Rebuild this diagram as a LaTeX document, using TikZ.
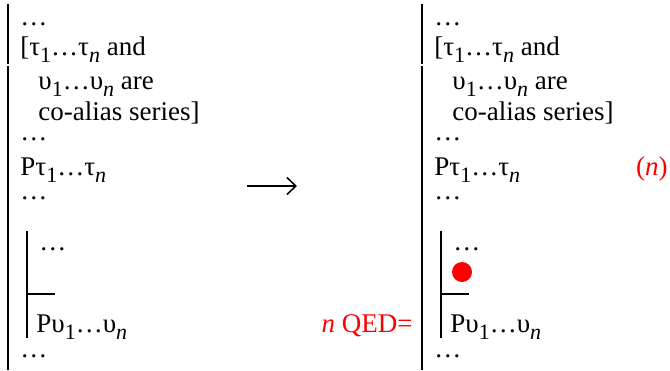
\documentclass[tikz,border=0pt]{standalone}
\usepackage{fontspec}
\setmainfont{Liberation Serif}
\usetikzlibrary{arrows.meta}
\newcommand{\sbs}[1]{\raisebox{-3.5pt}[\height][0pt]{\fontsize{11}{11}\selectfont #1}}
\newcommand{\tauseq}{τ\sbs{1}…τ\sbs{\textit{n}}}
\newcommand{\upsseq}{υ\sbs{1}…υ\sbs{\textit{n}}}

\begin{document}
\begin{tikzpicture}[x=0.5pt,y=-0.5pt,
  txt/.style={anchor=base west,inner sep=0pt,font=\fontsize{13.5}{15}\selectfont},
  bar/.style={line width=0.65pt}]
  \useasboundingbox (0,0) rectangle (670,370);
  \foreach \s/\dx in {l/0,r/414}{
    \draw[bar] (8+\dx,4)--(8+\dx,64); \draw[bar] (8+\dx,66)--(8+\dx,370);
    \draw[bar] (27+\dx,231)--(27+\dx,338); \draw[bar] (27+\dx,294)--(55+\dx,294);
    \node[txt] (\s d1) at (20+\dx,25) {…};
    \node[txt] (\s t) at (20+\dx,55) {[\tauseq{} and};
    \node[txt] (\s u) at (38+\dx,89) {\upsseq{} are};
    \node[txt] (\s co) at (38+\dx,120) {co-alias series]};
    \node[txt] (\s d2) at (20+\dx,140) {…};
    \node[txt] (\s pt) at (20+\dx,175) {P\tauseq};
    \node[txt] (\s d3) at (20+\dx,199) {…};
    \node[txt] (\s d4) at (39+\dx,250) {…};
    \node[txt] (\s pu) at (36+\dx,332) {P\upsseq};
    \node[txt] (\s d5) at (20+\dx,357) {…};
  }
  \node[circle,fill=red,inner sep=0pt,minimum size=10pt] (dot) at (462,272) {};
  \node[txt,anchor=base east,text=red] (tag) at (668,175) {(\textit{n})};
  \node[txt,anchor=base east,text=red] (qed) at (413,332) {\textit{n} QED=};
  \coordinate (arrL) at (247,186); \coordinate (arrR) at (297,186);
  \draw[line width=0.75pt,-{Straight Barb[length=4.5pt,width=8.5pt]}] (arrL)--(arrR);
\end{tikzpicture}
\end{document}
